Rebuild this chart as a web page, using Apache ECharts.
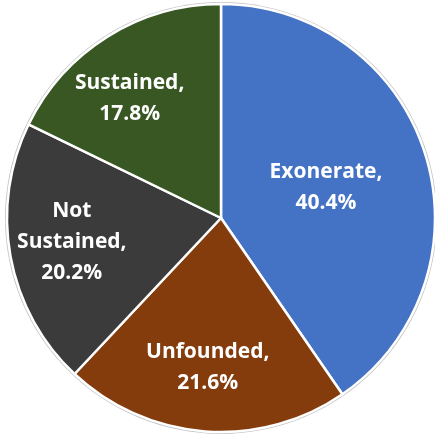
<!DOCTYPE html>
<html>
<head>
<meta charset="utf-8">
<script src="https://cdn.jsdelivr.net/npm/echarts@6/dist/echarts.min.js"></script>
<style>
  html, body { margin: 0; padding: 0; background: #ffffff; }
  #chart { width: 435px; height: 438px; }
</style>
</head>
<body>
<div id="chart"></div>
<script>
// Complaint dispositions, share of total (%)
const categories = ['Exonerate', 'Unfounded', 'Not Sustained', 'Sustained'];
const shares = [40.4, 21.6, 20.2, 17.8];
const sliceColors = ['#4472C4', '#843C0C', '#3B3B3B', '#385723'];
// Nudges applied to each label after the default inside placement
const labelShifts = [[0, 2], [-5, 40], [-41, 4], [-33, -26]];

const chart = echarts.init(document.getElementById('chart'), null, { renderer: 'canvas' });

const data = categories.map((name, i) => ({
  name: name,
  value: shares[i],
  itemStyle: { color: sliceColors[i] }
}));

chart.setOption({
  animation: false,
  backgroundColor: '#ffffff',
  series: [
    {
      // thin grey rim behind the pie
      type: 'pie',
      silent: true,
      center: [221, 218],
      radius: 216,
      startAngle: 90,
      data: [{ value: 1, itemStyle: { color: '#c4c4c4' } }],
      label: { show: false },
      labelLine: { show: false }
    },
    {
      type: 'pie',
      center: [221, 218],
      radius: 214,
      startAngle: 90,
      clockwise: true,
      data: data,
      itemStyle: { borderColor: '#ffffff', borderWidth: 2.5 },
      label: {
        show: true,
        position: 'inside',
        color: '#ffffff',
        fontFamily: 'Open Sans',
        fontWeight: 'bold',
        fontSize: 21,
        lineHeight: 31,
        align: 'center',
        formatter: function (p) {
          const name = p.name === 'Not Sustained' ? 'Not\nSustained' : p.name;
          return name + ',\n' + p.value.toFixed(1) + '%';
        }
      },
      labelLine: { show: false },
      labelLayout: function (p) {
        const s = labelShifts[p.dataIndex];
        return { dx: s[0], dy: s[1] };
      }
    }
  ]
});
</script>
</body>
</html>
